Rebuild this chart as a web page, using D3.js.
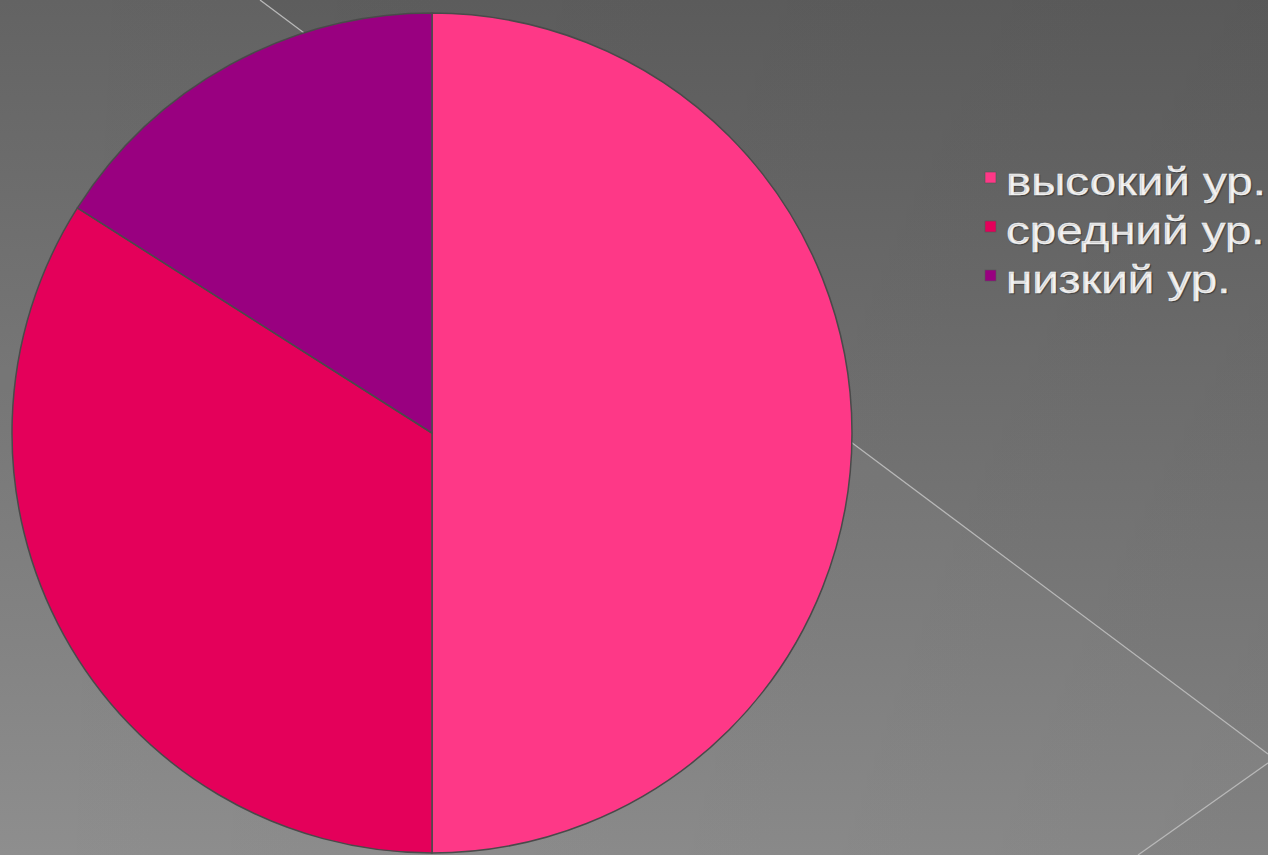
<!DOCTYPE html>
<html><head><meta charset="utf-8">
<script src="https://cdn.jsdelivr.net/npm/d3@7"></script>
<style>html,body{margin:0;padding:0;overflow:hidden;background:#666;}svg{display:block;}</style>
</head><body>
<svg id="c" width="1268" height="855"></svg>
<script>
const categories = ["высокий ур.", "средний ур.", "низкий ур."];
const values = [50, 34, 16];
const colors = ["#fe3887", "#e4005a", "#990080"];

const W = 1268, H = 855;
const svg = d3.select("#c");
const defs = svg.append("defs");
const g1 = defs.append("linearGradient").attr("id","bg").attr("x1",0).attr("y1",0).attr("x2",0).attr("y2",1);
g1.append("stop").attr("offset","0%").attr("stop-color","#5e5e5e");
g1.append("stop").attr("offset","100%").attr("stop-color","#8a8a8a");
const g0 = defs.append("linearGradient").attr("id","bgh").attr("x1",0).attr("y1",0).attr("x2",1).attr("y2",0);
g0.append("stop").attr("offset","0%").attr("stop-color","#000").attr("stop-opacity",0);
g0.append("stop").attr("offset","100%").attr("stop-color","#000").attr("stop-opacity",0.06);

svg.append("rect").attr("width",W).attr("height",H).attr("fill","url(#bg)");
svg.append("rect").attr("width",W).attr("height",H).attr("fill","url(#bgh)");
svg.append("path").attr("d", `M260,0 L1268,754 L1268,763 L1138,855 L0,855 L0,0 Z`)
  .attr("fill","#fff").attr("opacity",0.035);
svg.append("line").attr("x1",260).attr("y1",0).attr("x2",1268).attr("y2",754)
  .attr("stroke","#b8b8b8").attr("stroke-width",1.3);
svg.append("line").attr("x1",1268).attr("y1",763).attr("x2",1138).attr("y2",855)
  .attr("stroke","#b8b8b8").attr("stroke-width",1.3);

const cx = 432, cy = 433, R = 420;
const pie = d3.pie().sort(null).value(d => d)(values);
const arc = d3.arc().innerRadius(0).outerRadius(R);
const pg = svg.append("g").attr("transform", `translate(${cx},${cy})`);
pg.selectAll("path").data(pie).join("path")
  .attr("d", arc)
  .attr("fill", (d,i) => colors[i])
  .attr("stroke", "#4a4a4a")
  .attr("stroke-width", 1.5)
  .attr("stroke-linejoin","round");

const sx = 1.25;
const lg = svg.append("g");
const rows = lg.selectAll("g").data(categories).join("g")
  .attr("transform", (d,i) => `translate(985,${195 + i*49})`);
rows.append("rect").attr("x",0).attr("y",-23).attr("width",11).attr("height",11)
  .attr("fill",(d,i)=>colors[i]).attr("stroke","#555").attr("stroke-width",0.6);
rows.append("text")
  .attr("transform", `scale(${sx},1)`)
  .attr("x", 21/sx).attr("y",0)
  .attr("font-family","Liberation Sans, Arial, sans-serif")
  .attr("font-size",38)
  .attr("fill","#f4f4f4")
  .attr("stroke","#f4f4f4").attr("stroke-width",0.4)
  .attr("style","text-shadow:1px 1px 1px rgba(0,0,0,0.35)")
  .text(d=>d);
</script>
</body></html>
